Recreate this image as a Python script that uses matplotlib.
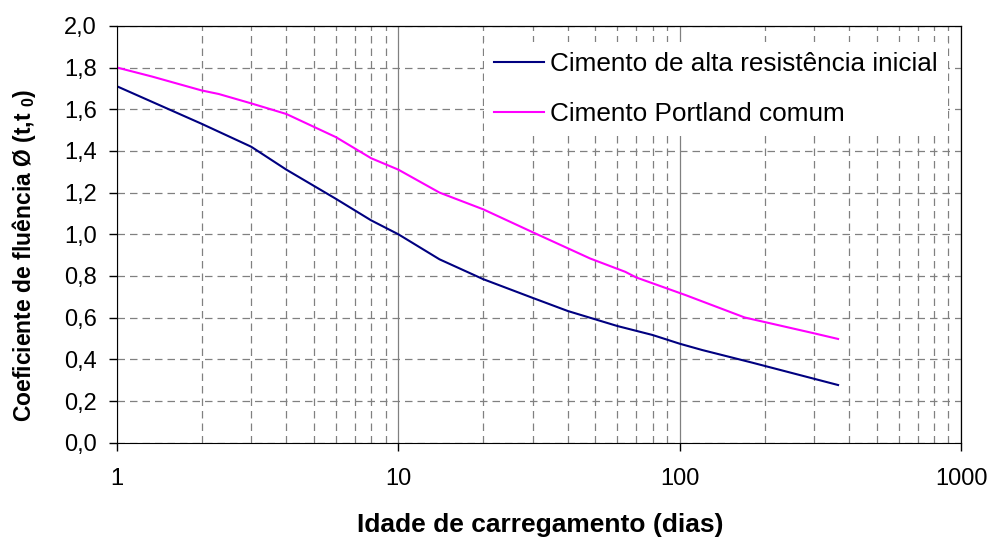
import matplotlib.pyplot as plt
from matplotlib.ticker import FixedLocator, FuncFormatter, LogLocator, NullFormatter

plt.rcParams['font.family'] = ['Liberation Sans', 'DejaVu Sans']
plt.rcParams['mathtext.fontset'] = 'custom'
plt.rcParams['mathtext.rm'] = 'Liberation Sans'
plt.rcParams['mathtext.bf'] = 'Liberation Sans:bold'

# idade de carregamento (dias) x coeficiente de fluencia
dias_ari = [1, 2, 3, 4, 6, 8, 10, 14, 20, 30, 40, 60, 80, 100, 120, 180, 365]
phi_ari = [1.71, 1.53, 1.42, 1.31, 1.17, 1.067, 1.0, 0.88, 0.785, 0.695,
           0.632, 0.56, 0.517, 0.475, 0.445, 0.385, 0.277]

dias_cp = [1, 1.33, 2, 2.3, 3, 4, 6, 8, 10, 14, 20, 30, 48, 64, 70, 105, 170, 300, 365]
phi_cp = [1.80, 1.757, 1.69, 1.673, 1.628, 1.577, 1.466, 1.365, 1.31, 1.20,
          1.12, 1.01, 0.884, 0.82, 0.793, 0.708, 0.601, 0.525, 0.498]

fig = plt.figure(figsize=(9.91, 5.38), dpi=100)
ax = fig.add_axes([0.118, 0.177, 0.852, 0.775])

ax.plot(dias_ari, phi_ari, color='#000080', lw=1.5,
        label='Cimento de alta resistência inicial')
ax.plot(dias_cp, phi_cp, color='#FF00FF', lw=1.5,
        label='Cimento Portland comum')

ax.set_xscale('log')
ax.set_xlim(1, 1000)
ax.set_ylim(0, 2.0)
ax.yaxis.set_major_locator(FixedLocator([i * 0.2 for i in range(11)]))
ax.yaxis.set_major_formatter(FuncFormatter(lambda v, p: f'{v:.1f}'.replace('.', ',')))
ax.xaxis.set_major_locator(FixedLocator([1, 10, 100, 1000]))
ax.xaxis.set_major_formatter(FuncFormatter(lambda v, p: f'{v:g}'))
ax.xaxis.set_minor_locator(LogLocator(base=10, subs=range(2, 10)))
ax.xaxis.set_minor_formatter(NullFormatter())

ax.grid(axis='y', which='major', color='#808080', ls=(0, (6, 4)), lw=0.9)
ax.grid(axis='x', which='minor', color='#808080', ls=(0, (6, 4)), lw=0.9)
ax.grid(axis='x', which='major', color='#808080', ls='-', lw=0.9)
ax.set_axisbelow(True)

for s in ['top', 'right']:
    ax.spines[s].set_linewidth(0.9)
ax.tick_params(axis='both', which='major', direction='out', length=5.5, labelsize=17, width=1)
ax.tick_params(axis='x', which='major', pad=13)
ax.tick_params(axis='y', which='major', pad=9)
ax.tick_params(axis='x', which='minor', length=0)

fig.text(0.545, 0.012, 'Idade de carregamento (dias)', fontsize=19, fontweight='bold',
         ha='center', va='baseline')
fig.text(0.024, 0.525, r'Coeficiente de fluência Ø (t,t $_{\mathbf{0}}$)', fontsize=16.5,
         fontweight='bold', rotation=90, ha='center', va='center')

# legenda com fundo branco, sem borda
leg = ax.legend(loc='upper right', bbox_to_anchor=(0.9846, 0.962), frameon=True,
                fontsize=18.8, handlelength=1.9, handletextpad=0.25, labelspacing=0.98,
                borderaxespad=0, borderpad=0.4, fancybox=False)
leg.get_frame().set_facecolor('white')
leg.get_frame().set_edgecolor('none')
leg.get_frame().set_alpha(1)

fig.savefig('out.png', dpi=100)
